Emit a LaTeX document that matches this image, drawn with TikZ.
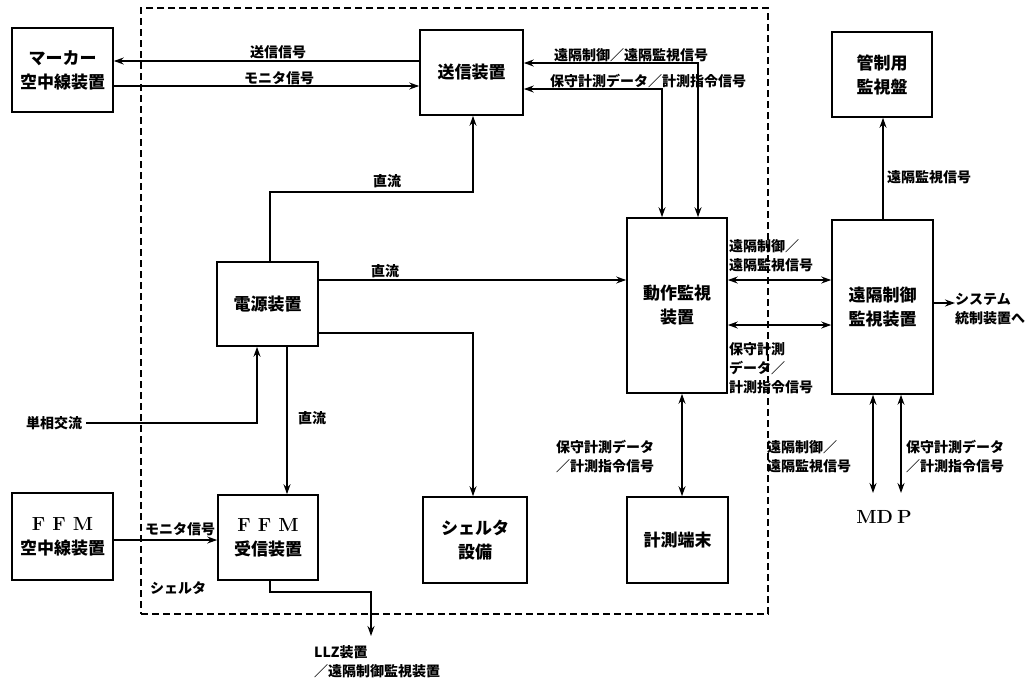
\documentclass[tikz,border=0pt]{standalone}
\usepackage{fontspec}
\newfontfamily\jp{Noto Sans CJK JP}
\usetikzlibrary{arrows.meta}
\begin{document}
\begin{tikzpicture}[x=1pt,y=-1pt,
  box/.style={draw,line width=1.6pt,inner sep=0pt,align=center,font=\jp\bfseries\fontsize{17}{24}\selectfont},
  lab/.style={inner sep=0pt,align=left,font=\jp\bfseries\fontsize{14}{19}\selectfont},
  conn/.style={line width=1.5pt},
  arr/.style={conn,-{Stealth[length=10pt,width=7pt]}},
  arrb/.style={conn,{Stealth[length=10pt,width=7pt]}-{Stealth[length=10pt,width=7pt]}},
  lat/.style={font=\rmfamily\bfseries\fontsize{19}{24}\selectfont}
]
\useasboundingbox (0,0) rectangle (1032,683);
% shelter boundary
\node[draw,dash pattern=on 7pt off 4pt,line width=1.3pt,minimum width=627pt,minimum height=606pt,inner sep=0pt] (shel) at (454.5,311) {};
% boxes
\node[box,minimum width=101pt,minimum height=84pt] (marker) at (62.5,70) {マーカー\\空中線装置};
\node[box,minimum width=103pt,minimum height=85pt] (send) at (471.5,72.5) {送信装置};
\node[box,minimum width=100pt,minimum height=85pt] (kansei) at (882,74.5) {管制用\\監視盤};
\node[box,minimum width=101pt,minimum height=84pt] (dengen) at (267.5,304) {電源装置};
\node[box,minimum width=100pt,minimum height=175pt] (dosa) at (677,305.5) {動作監視\\装置};
\node[box,minimum width=101pt,minimum height=174pt] (enkaku) at (882.5,307) {遠隔制御\\監視装置};
\node[box,minimum width=101pt,minimum height=87pt] (ffmant) at (62.5,536.5) {{\rmfamily\bfseries\fontsize{19}{24}\selectfont F\hspace{7pt}F\hspace{7pt}M}\\空中線装置};
\node[box,minimum width=100pt,minimum height=85pt] (ffmrx) at (268,537.5) {{\rmfamily\bfseries\fontsize{19}{24}\selectfont F\hspace{7pt}F\hspace{7pt}M}\\受信装置};
\node[box,minimum width=104pt,minimum height=86pt] (shelbox) at (475,540) {シェルタ\\設備};
\node[box,minimum width=101pt,minimum height=86pt] (keisoku) at (677.5,540) {計測端末};
% free text nodes
\node[lab,inner xsep=4pt] (tan) at (54,423) {単相交流};
\node[lat] (mdp) at (884,517) {MD\hspace{4pt}P};
\node[lab,anchor=west] (sys) at (955,309) {システム\\統制装置へ};
\coordinate (llz) at (371,636);
\coordinate (mdpA) at (873,493);
\coordinate (mdpB) at (901,493);
% connectors
\draw[arr] (send.west|-0,61) -- (marker.east|-0,61);
\draw[arr] (marker.east|-0,86) -- (send.west|-0,86);
\draw[arrb] (send.east|-0,63) -- (698,63) -- (dosa.north-|698,0);
\draw[arrb] (send.east|-0,89) -- (662,89) -- (dosa.north-|662,0);
\draw[arr] (dengen.north-|270,0) -- (270,192) -- (473,192) -- (send.south-|473,0);
\draw[arr] (dengen.east|-0,280) -- (dosa.west|-0,280);
\draw[arr] (dengen.east|-0,333) -- (473,333) -- (shelbox.north-|473,0);
\draw[arr] (tan.east) -- (257,423) -- (dengen.south-|257,0);
\draw[arr] (dengen.south-|287,0) -- (ffmrx.north-|287,0);
\draw[arr] (ffmant.east|-0,540) -- (ffmrx.west|-0,540);
\draw[arr] (ffmrx.south-|270,0) -- (270,592) -- (371,592) -- (llz);
\draw[arrb] (dosa.south-|682,0) -- (keisoku.north-|682,0);
\draw[arrb] (dosa.east|-0,280) -- (enkaku.west|-0,280);
\draw[arrb] (dosa.east|-0,325) -- (enkaku.west|-0,325);
\draw[arr] (enkaku.east|-0,303) -- (sys.west|-0,303);
\draw[arr] (enkaku.north-|883,0) -- (kansei.south-|883,0);
\draw[arrb] (enkaku.south-|873,0) -- (mdpA);
\draw[arrb] (enkaku.south-|901,0) -- (mdpB);
% labels
\node[lab] at (278,52) {送信信号};
\node[lab] at (279,78) {モニタ信号};
\node[lab] at (631,55) {遠隔制御／遠隔監視信号};
\node[lab] at (648,81) {保守計測データ／計測指令信号};
\node[lab] at (387,181) {直流};
\node[lab] at (385,271) {直流};
\node[lab] at (312,418) {直流};
\node[lab] at (180,529) {モニタ信号};
\node[lab] at (178,588) {シェルタ};
\node[lab,anchor=west] at (314,662) {LLZ装置\\／遠隔制御監視装置};
\node[lab,anchor=west] at (556,457) {保守計測データ\\／計測指令信号};
\node[lab,anchor=west] at (729,256) {遠隔制御／\\遠隔監視信号};
\node[lab,anchor=west] at (729,368) {保守計測\\データ／\\計測指令信号};
\node[lab,anchor=west] at (887,177) {遠隔監視信号};
\node[lab,anchor=west] at (767,457) {遠隔制御／\\遠隔監視信号};
\node[lab,anchor=west] at (906,457) {保守計測データ\\／計測指令信号};
\end{tikzpicture}
\end{document}
